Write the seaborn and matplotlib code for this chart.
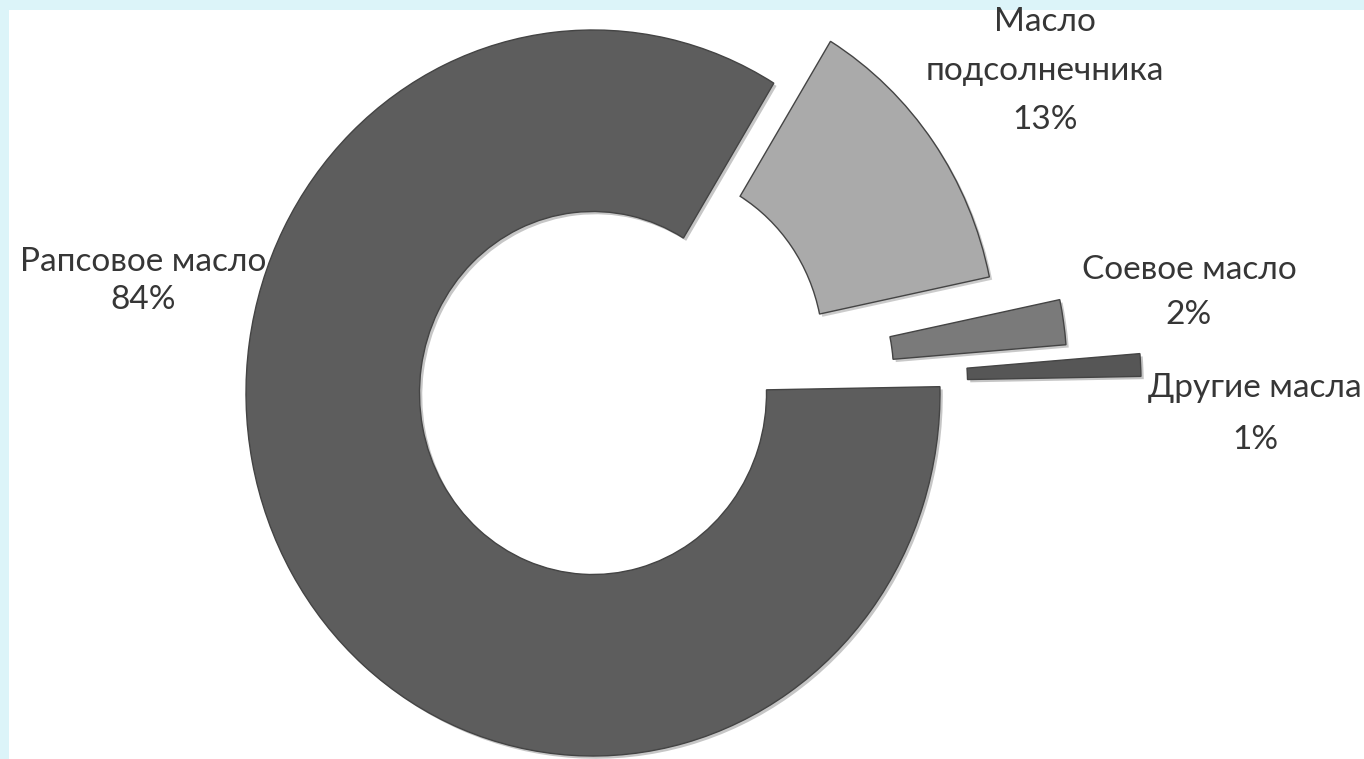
import matplotlib
matplotlib.use("Agg")
import matplotlib.pyplot as plt
import seaborn as sns
from matplotlib import patheffects as pe

# data
oils = ["Рапсовое масло", "Масло\nподсолнечника", "Соевое масло", "Другие масла"]
shares = [84, 13, 2, 1]
explode = [0.0, 0.2, 0.37, 0.58]
colors = ["#5d5d5d", "#aaaaaa", "#7a7a7a", "#565656"]

# label anchor (x centre, y of first line) in pixels and line step in pixels
label_anchor = [(143, 262, 38), (1045, 22, 49), (1189, 270, 45), (1255, 388, 52)]

sns.set_theme(style="white")
plt.rcParams["font.family"] = ["Lato", "DejaVu Sans"]

W, H = 1364, 759
fig = plt.figure(figsize=(W / 100, H / 100), dpi=100, facecolor="#dcf4f9")
# white plot area inside the cyan frame
ax = fig.add_axes([9 / W, 0, (W - 9) / W, (H - 10) / H])
ax.set_facecolor("white")

wedges, _ = ax.pie(
    shares,
    explode=explode,
    colors=colors,
    startangle=1,
    counterclock=False,
    wedgeprops=dict(width=0.5, edgecolor="#444444", linewidth=1.0),
    frame=True,
)
for w in wedges:
    w.set_path_effects([pe.SimplePatchShadow(offset=(2, -2), alpha=0.25), pe.Normal()])

# slightly stretched vertically, as in the original image
rx, ry = 347, 363
cx, cy = 593, 393
ax.set_aspect("auto")
ax.set_xlim(-(cx - 9) / rx, (W - cx) / rx)
ax.set_ylim(-(H - cy) / ry, (cy - 10) / ry)
ax.set_xticks([])
ax.set_yticks([])
for s in ax.spines.values():
    s.set_visible(False)


def px(x, y):
    return (x - cx) / rx, (cy - y) / ry


for name, val, (lx, ly, step) in zip(oils, shares, label_anchor):
    lines = name.split("\n") + [f"{val}%"]
    for i, line in enumerate(lines):
        ax.text(*px(lx, ly + i * step), line, ha="center", va="center",
                fontsize=24, color="#363636")

fig.savefig("out.png", dpi=100, facecolor=fig.get_facecolor())
